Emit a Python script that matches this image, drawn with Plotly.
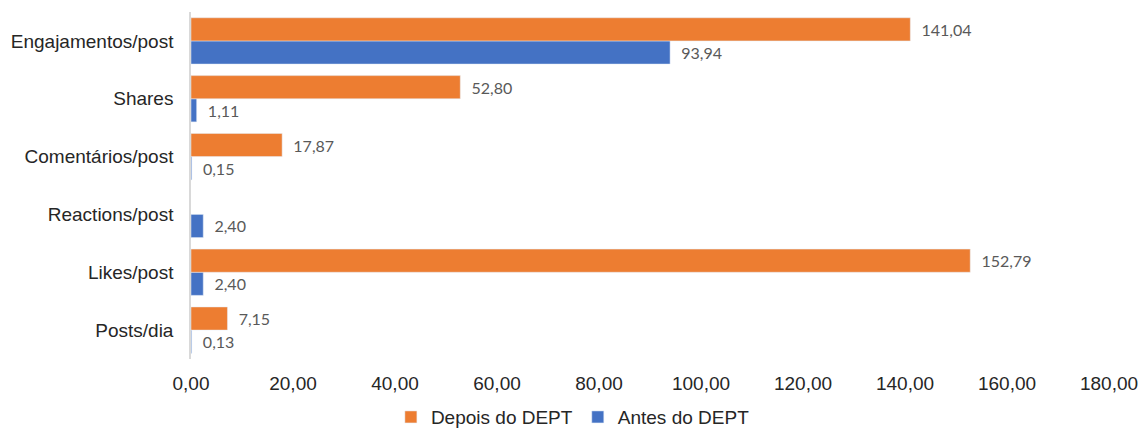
import plotly.graph_objects as go

# categories listed bottom -> top
categories = ["Posts/dia", "Likes/post", "Reactions/post", "Comentários/post", "Shares", "Engajamentos/post"]
depois = [7.15, 152.79, None, 17.87, 52.80, 141.04]
antes = [0.13, 2.40, 2.40, 0.15, 1.11, 93.94]
x_ticks = [0, 20, 40, 60, 80, 100, 120, 140, 160, 180]

NB = "\u00a0"
label_font = dict(family="Lato, Open Sans, sans-serif", size=16, color="#595959")

fig = go.Figure()
fig.add_trace(go.Bar(
    y=categories, x=antes, orientation="h", name="Antes do DEPT",
    marker=dict(color="#4472C4"),
    text=antes, texttemplate=NB * 2 + "%{x:.2f}", textposition="outside",
    textfont=label_font, cliponaxis=False,
))
fig.add_trace(go.Bar(
    y=categories, x=depois, orientation="h", name="Depois do DEPT",
    marker=dict(color="#ED7D31"),
    text=depois, texttemplate=NB * 2 + "%{x:.2f}", textposition="outside",
    textfont=label_font, cliponaxis=False,
))

axis_font = dict(family="Liberation Sans, Arial, sans-serif", size=19, color="#262626")

fig.update_layout(
    width=1139, height=430,
    margin=dict(l=191, r=30, t=12, b=71, autoexpand=False),
    paper_bgcolor="white", plot_bgcolor="white",
    barmode="group", bargap=0.2, bargroupgap=0,
    separators=",.",
    showlegend=True,
    legend=dict(orientation="h", x=0.416, xanchor="center",
                yref="container", y=0.03, yanchor="middle",
                traceorder="reversed", font=axis_font, itemwidth=30),
    xaxis=dict(range=[0, 180], tickvals=x_ticks, tickformat=".2f",
               showgrid=False, zeroline=False, showline=False, automargin=False,
               ticklabeloverflow="allow",
               tickfont=axis_font, ticklabelstandoff=11),
    yaxis=dict(categoryorder="array", categoryarray=categories, automargin=False,
               showgrid=False, showline=True, linecolor="#d9d9d9", linewidth=1.5,
               tickfont=axis_font, ticklabelstandoff=12),
)

fig.write_html(
    "out.html",
    config={"displayModeBar": False},
    post_script="document.body.style.margin='0';document.body.style.overflow='hidden';",
)
